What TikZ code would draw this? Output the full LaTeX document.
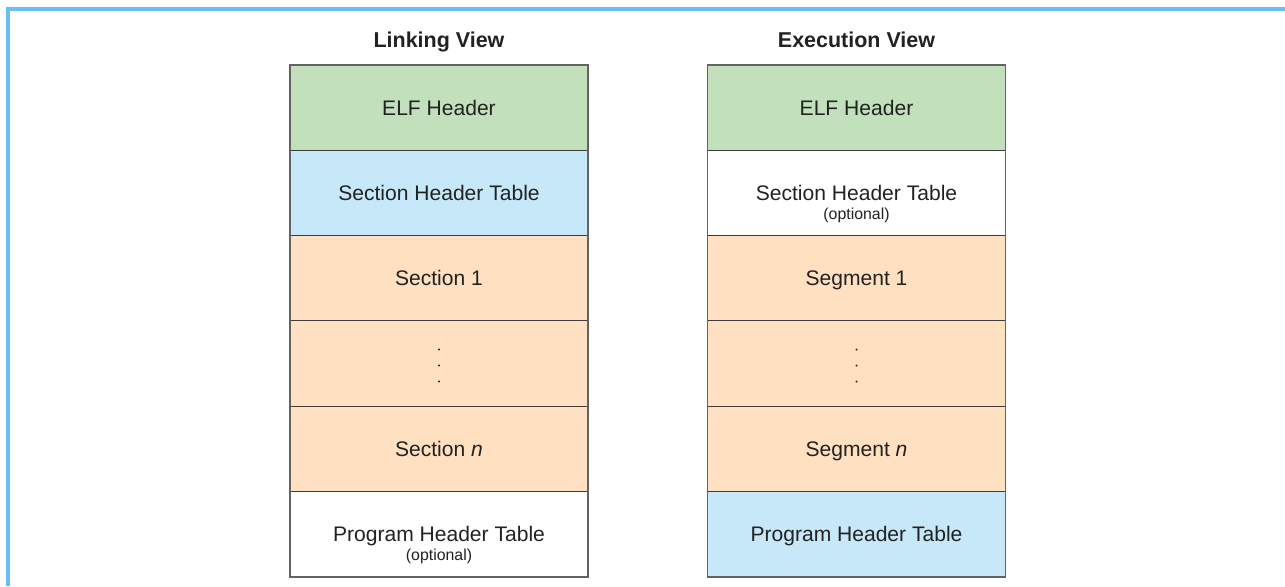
\documentclass[tikz,border=0pt]{standalone}
\usepackage{fontspec}
\setmainfont{Liberation Sans}
\definecolor{elfgreen}{HTML}{C1E0BB}
\definecolor{tblblue}{HTML}{C6E8F8}
\definecolor{secorange}{HTML}{FFE1C2}
\definecolor{frameblue}{HTML}{66BFF7}
\definecolor{txt}{HTML}{222222}
\definecolor{edge}{HTML}{3C3C3C}
\begin{document}
\begin{tikzpicture}[x=0.75pt,y=-0.75pt,
  cell/.style={draw=edge,line width=0.8pt,outer sep=0pt,minimum width=298*0.75pt,minimum height=85.3*0.75pt,inner sep=0pt,text height=11.3pt,text depth=0pt,text=txt,font=\fontsize{15.8}{19}\selectfont},
  title/.style={text=txt,anchor=base,inner sep=0pt,font=\fontsize{16.1}{19}\selectfont\bfseries},
  note/.style={text=txt,font=\fontsize{11.9}{14}\selectfont,inner sep=0pt},
  dotn/.style={fill=txt,circle,inner sep=0pt,minimum size=1.6pt}]
\useasboundingbox (0,0) rectangle (1285,586);
\fill[white] (0,0) rectangle (1285,586);
\draw[frameblue,line width=2.4pt] (8,586) -- (8,9) -- (1285,9);
% Linking view
\node[title] (tl) at (439,47) {Linking View};
\node[cell,fill=elfgreen,anchor=north] (l1) at (439,65) {ELF Header};
\node[cell,fill=tblblue,anchor=north] (l2) at (l1.south) {Section Header Table};
\node[cell,fill=secorange,anchor=north] (l3) at (l2.south) {Section 1};
\node[cell,fill=secorange,anchor=north] (l4) at (l3.south) {};
\node[cell,fill=secorange,anchor=north] (l5) at (l4.south) {Section \textit{n}};
\node[cell,fill=white,anchor=north] (l6) at (l5.south) {Program Header Table};
\node[note] (lo) at ([yshift=-22*0.75pt]l6.center) {(optional)};
\node[dotn] (ld1) at ([yshift=14*0.75pt]l4.center) {};
\node[dotn] (ld2) at ([yshift=-2*0.75pt]l4.center) {};
\node[dotn] (ld3) at ([yshift=-18*0.75pt]l4.center) {};
\draw[draw=edge!80,line width=1.4pt] (l1.north west) rectangle (l6.south east);
% Execution view
\node[title] (tr) at (856.5,47) {Execution View};
\node[cell,fill=elfgreen,anchor=north] (r1) at (856.5,65) {ELF Header};
\node[cell,fill=white,anchor=north] (r2) at (r1.south) {Section Header Table};
\node[note] (ro) at ([yshift=-22*0.75pt]r2.center) {(optional)};
\node[cell,fill=secorange,anchor=north] (r3) at (r2.south) {Segment 1};
\node[cell,fill=secorange,anchor=north] (r4) at (r3.south) {};
\node[cell,fill=secorange,anchor=north] (r5) at (r4.south) {Segment \textit{n}};
\node[cell,fill=tblblue,anchor=north] (r6) at (r5.south) {Program Header Table};
\node[dotn] (rd1) at ([yshift=14*0.75pt]r4.center) {};
\node[dotn] (rd2) at ([yshift=-2*0.75pt]r4.center) {};
\node[dotn] (rd3) at ([yshift=-18*0.75pt]r4.center) {};
\draw[draw=edge!80,line width=1.4pt] (r1.north west) rectangle (r6.south east);
\end{tikzpicture}
\end{document}
